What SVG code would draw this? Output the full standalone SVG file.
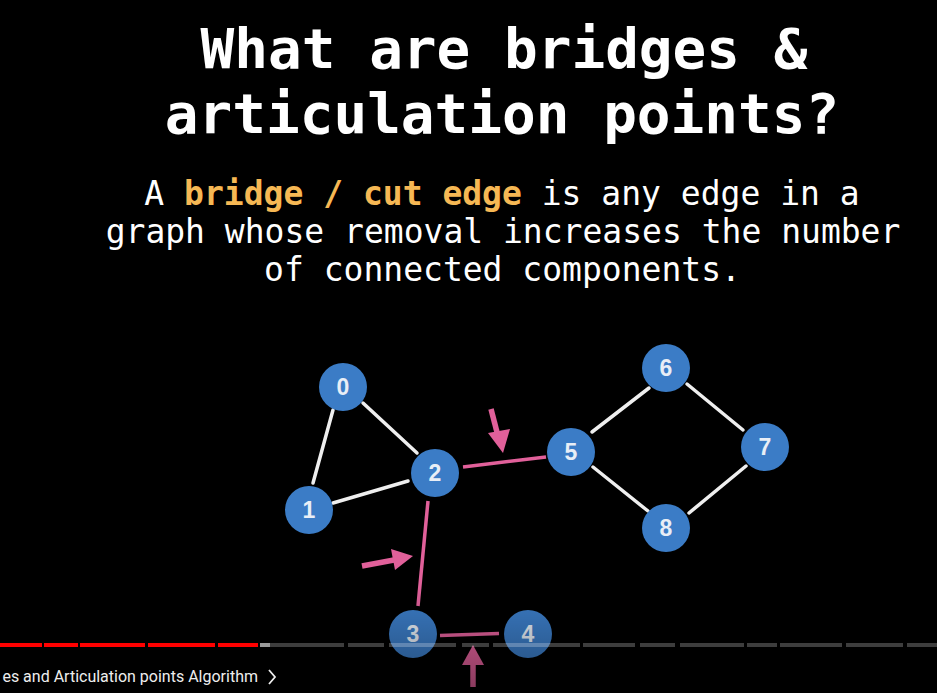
<svg xmlns="http://www.w3.org/2000/svg" width="937" height="693" viewBox="0 0 937 693">
<defs>
<style>
.title{font-family:"DejaVu Sans Mono",monospace;font-weight:bold;font-size:56px;fill:#ffffff;text-anchor:middle}
.sub{font-family:"DejaVu Sans Mono",monospace;font-size:33px;fill:#ffffff;text-anchor:middle}
.hl{fill:#f6b854;font-weight:bold}
.node circle{fill:#3b7cc6}
.node text{font-family:"Liberation Sans",Arial,sans-serif;font-weight:bold;font-size:23px;fill:#e8eef6;text-anchor:middle}
.w{stroke:#efefef;stroke-width:3.5;stroke-linecap:round}
.p{stroke:#e1609a;stroke-width:3.5;stroke-linecap:butt}
.ash{stroke:#e1609a;stroke-width:5.5}
.ahd{fill:#e1609a}
.red{fill:#ff0000}
.grey{fill:#ffffff;fill-opacity:0.24}
</style>
<linearGradient id="fade" x1="0" y1="0" x2="0" y2="1">
<stop offset="0" stop-color="#000" stop-opacity="0"/>
<stop offset="1" stop-color="#000" stop-opacity="0.4"/>
</linearGradient>
</defs>
<rect width="937" height="693" fill="#000"/>
<text class="title" x="504" y="68">What are bridges &amp;</text>
<text class="title" x="502" y="133">articulation points?</text>
<text class="sub" x="502" y="205">A <tspan class="hl">bridge / cut edge</tspan> is any edge in a</text>
<text class="sub" x="503" y="243">graph whose removal increases the number</text>
<text class="sub" x="502.5" y="281">of connected components.</text>
<g id="connectors">
<line class="w" x1="333" y1="410" x2="313" y2="483"/>
<line class="w" x1="363" y1="403" x2="417" y2="453"/>
<line class="w" x1="333" y1="503" x2="408" y2="481"/>
<line class="w" x1="592" y1="432" x2="649" y2="388"/>
<line class="w" x1="687" y1="384" x2="743" y2="430"/>
<line class="w" x1="593" y1="467" x2="648" y2="511"/>
<line class="w" x1="689" y1="513" x2="746" y2="466"/>
<line class="p" x1="463" y1="467" x2="546" y2="457"/>
<line class="p" x1="428" y1="501" x2="418" y2="606"/>
<line class="p" x1="440" y1="635.5" x2="499" y2="633.5"/>
</g>
<g id="arrows">
<line class="ash" x1="491" y1="409" x2="498" y2="436"/>
<polygon class="ahd" points="488,433 510,429 503,453"/>
<line class="ash" x1="362" y1="566" x2="394" y2="560"/>
<polygon class="ahd" points="391,549 413,556 395,570"/>
<line class="ash" x1="473" y1="687" x2="473" y2="663"/>
<polygon class="ahd" points="462,665 484,665 473,645"/>
</g>
<g id="node0" class="node"><circle cx="343" cy="387" r="24"/><text x="343" y="395">0</text></g>
<g id="node1" class="node"><circle cx="309" cy="510" r="24"/><text x="309" y="518">1</text></g>
<g id="node2" class="node"><circle cx="435" cy="473" r="24"/><text x="435" y="481">2</text></g>
<g id="node3" class="node"><circle cx="413" cy="634" r="24"/><text x="413" y="642">3</text></g>
<g id="node4" class="node"><circle cx="528" cy="634" r="24"/><text x="528" y="642">4</text></g>
<g id="node5" class="node"><circle cx="571" cy="452" r="24"/><text x="571" y="460">5</text></g>
<g id="node6" class="node"><circle cx="666" cy="368" r="24"/><text x="666" y="376">6</text></g>
<g id="node7" class="node"><circle cx="765" cy="447" r="24"/><text x="765" y="455">7</text></g>
<g id="node8" class="node"><circle cx="666" cy="528" r="24"/><text x="666" y="536">8</text></g>
<rect x="0" y="585" width="937" height="108" fill="url(#fade)"/>
<g id="progress">
<rect class="red" x="0" y="643" width="42" height="4"/>
<rect class="red" x="44" y="643" width="34" height="4"/>
<rect class="red" x="80" y="643" width="65" height="4"/>
<rect class="red" x="148" y="643" width="67" height="4"/>
<rect class="red" x="218" y="643" width="40" height="4"/>
<rect x="260" y="643" width="10" height="4" fill="#9a9a9a"/>
<rect class="grey" x="270" y="643" width="74" height="4"/>
<rect class="grey" x="348" y="643" width="36" height="4"/>
<rect class="grey" x="389" y="643" width="67" height="4"/>
<rect class="grey" x="462" y="643" width="27" height="4"/>
<rect class="grey" x="493" y="643" width="87" height="4"/>
<rect class="grey" x="583" y="643" width="52" height="4"/>
<rect class="grey" x="640" y="643" width="35" height="4"/>
<rect class="grey" x="680" y="643" width="64" height="4"/>
<rect class="grey" x="747" y="643" width="30" height="4"/>
<rect class="grey" x="780" y="643" width="62" height="4"/>
<rect class="grey" x="846" y="643" width="57" height="4"/>
<rect class="grey" x="907" y="643" width="30" height="4"/>
</g>
<text x="258" y="682" text-anchor="end" font-family="Roboto,'Liberation Sans',sans-serif" font-size="16" fill="#eeeeee">es and Articulation points Algorithm</text>
<polyline points="269,670 275,677 269,684" fill="none" stroke="#eeeeee" stroke-width="1.8"/>
</svg>
